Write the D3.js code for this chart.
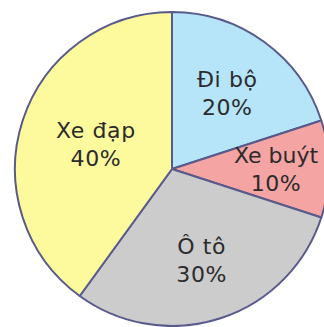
<!DOCTYPE html>
<meta charset="utf-8">
<script src="https://d3js.org/d3.v7.min.js"></script>
<style>
  body { margin: 0; background: #fff; overflow: hidden; }
</style>
<div id="my_dataviz"></div>
<script>
  // data
  var categories = ["Đi bộ", "Xe buýt", "Ô tô", "Xe đạp"];
  var percents = [20, 10, 30, 40];
  var colors = ["#b6e4f9", "#f5a4a4", "#cccccc", "#fdf99d"];

  // layout
  var width = 324, height = 327;
  var cx = 172, cy = 169, radius = 157;
  // how far from the centre each label sits
  var labelRadius = [94, 104, 96, 80];

  var svg = d3.select("#my_dataviz")
    .append("svg")
      .attr("width", width)
      .attr("height", height)
    .append("g")
      .attr("transform", "translate(" + cx + "," + cy + ")");

  var data = categories.map(function(c, i) {
    return { name: c, value: percents[i], color: colors[i], idx: i };
  });

  var pie = d3.pie()
    .sort(null)
    .value(function(d) { return d.value; });

  var arc = d3.arc().innerRadius(0).outerRadius(radius);

  var slices = pie(data);

  svg.selectAll("path")
    .data(slices)
    .enter()
    .append("path")
      .attr("d", arc)
      .attr("fill", function(d) { return d.data.color; })
      .attr("stroke", "#575a8a")
      .attr("stroke-width", 2)
      .attr("stroke-linejoin", "round");

  // labels: name + percent
  var labels = svg.selectAll("g.lbl")
    .data(slices)
    .enter()
    .append("g")
      .attr("class", "lbl")
      .attr("transform", function(d) {
        var r = labelRadius[d.data.idx];
        var c = d3.arc().innerRadius(r).outerRadius(r).centroid(d);
        return "translate(" + c[0] + "," + c[1] + ")";
      });

  labels.append("text")
    .attr("text-anchor", "middle")
    .attr("y", -6)
    .style("font-family", "'DejaVu Sans', sans-serif")
    .style("font-size", "22px")
    .style("letter-spacing", function(d) { return d.data.idx === 1 ? "0px" : "0.6px"; })
    .style("fill", "#2b2b2b")
    .text(function(d) { return d.data.name; });

  labels.append("text")
    .attr("text-anchor", "middle")
    .attr("y", 22)
    .style("font-family", "'DejaVu Sans', sans-serif")
    .style("font-size", "22px")
    .style("letter-spacing", "0.6px")
    .style("fill", "#2b2b2b")
    .text(function(d) { return d.data.value + "%"; });
</script>
